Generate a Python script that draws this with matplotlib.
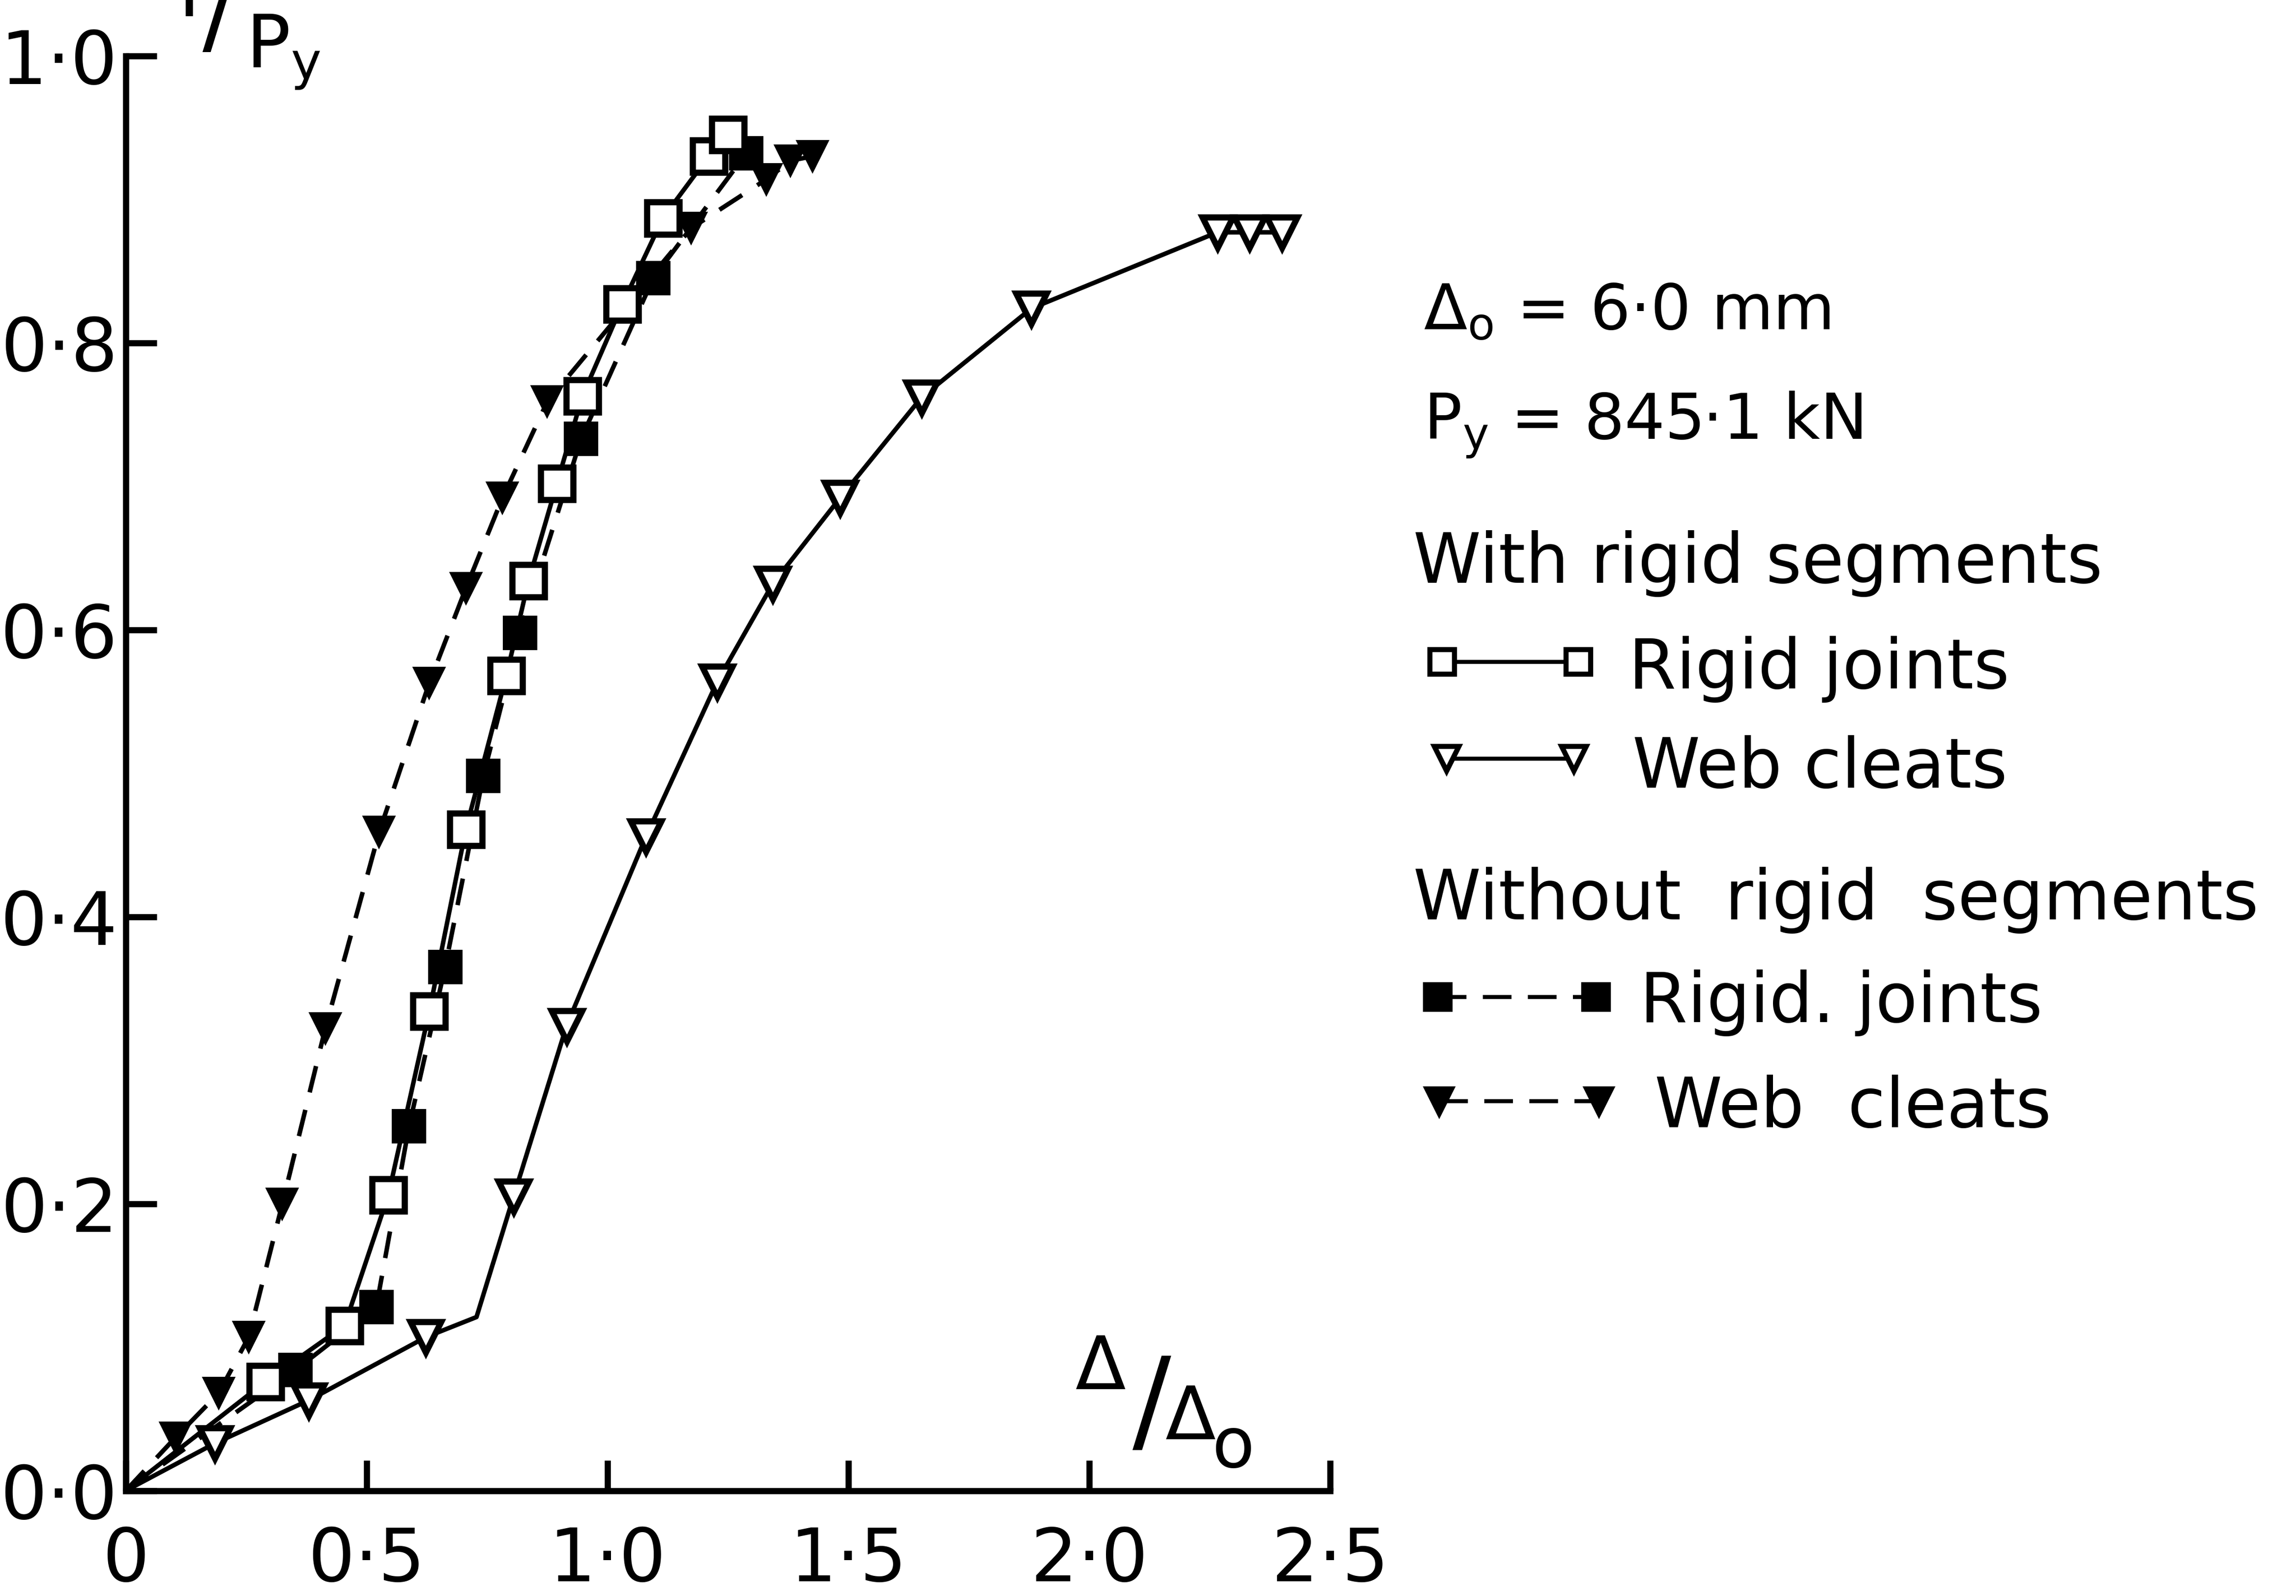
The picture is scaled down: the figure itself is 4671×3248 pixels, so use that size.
import matplotlib
matplotlib.use("Agg")
import matplotlib.pyplot as plt
from matplotlib.lines import Line2D

plt.rcParams['font.family'] = ['DejaVu Sans']
plt.rcParams['mathtext.default'] = 'regular'

# with rigid segments, rigid joints (open squares, solid)
sq_open_x = [0, 0.29, 0.454, 0.545, 0.63, 0.706, 0.79, 0.836, 0.895, 0.948, 1.031, 1.115, 1.21, 1.25]
sq_open_y = [0, 0.076, 0.115, 0.206, 0.334, 0.461, 0.568, 0.634, 0.702, 0.763, 0.827, 0.887, 0.93, 0.945]

# with rigid segments, web cleats (open triangles, solid) - index 4 is a bend with no marker
tri_open_x = [0, 0.185, 0.38, 0.623, 0.728, 0.805, 0.915, 1.08, 1.228, 1.343, 1.483, 1.652, 1.88, 2.266, 2.333, 2.4]
tri_open_y = [0, 0.033, 0.063, 0.107, 0.121, 0.205, 0.324, 0.456, 0.564, 0.632, 0.692, 0.762, 0.824, 0.877, 0.877, 0.877]

# without rigid segments, rigid joints (filled squares, dashed)
sq_fill_x = [0, 0.352, 0.52, 0.588, 0.663, 0.742, 0.818, 0.945, 1.095, 1.288]
sq_fill_y = [0, 0.084, 0.128, 0.254, 0.365, 0.498, 0.598, 0.733, 0.845, 0.932]

# without rigid segments, web cleats (filled triangles, dashed)
tri_fill_x = [0, 0.103, 0.193, 0.255, 0.325, 0.414, 0.526, 0.63, 0.706, 0.782, 0.875, 1.174, 1.33, 1.38, 1.426]
tri_fill_y = [0, 0.037, 0.068, 0.107, 0.2, 0.322, 0.459, 0.563, 0.629, 0.692, 0.759, 0.88, 0.914, 0.927, 0.93]

x_ticks = [0, 0.5, 1.0, 1.5, 2.0, 2.5]
x_labels = ["0", "0·5", "1·0", "1·5", "2·0", "2·5"]
y_ticks = [0, 0.2, 0.4, 0.6, 0.8, 1.0]
y_labels = ["0·0", "0·2", "0·4", "0·6", "0·8", "1·0"]

fig = plt.figure(figsize=(4671 / 300, 3248 / 300), dpi=300)
ax = fig.add_axes([0.0548, 0.066, 0.5245, 0.899])

lw = 2.2
dash = (6, 4)

ax.plot(sq_open_x, sq_open_y, 'k-', lw=lw, marker='s', ms=16, mfc='white', mec='k', mew=3,
        markevery=list(range(1, len(sq_open_x))), clip_on=False, zorder=3)
ax.plot(tri_open_x, tri_open_y, 'k-', lw=lw, marker='v', ms=15, mfc='white', mec='k', mew=3,
        markevery=[i for i in range(1, len(tri_open_x)) if i != 4], clip_on=False, zorder=3)
ax.plot(sq_fill_x, sq_fill_y, 'k', lw=lw, dashes=dash, marker='s', ms=16, mfc='k', mec='k',
        markevery=list(range(1, len(sq_fill_x))), clip_on=False, zorder=2)
ax.plot(tri_fill_x, tri_fill_y, 'k', lw=lw, dashes=dash, marker='v', ms=15, mfc='k', mec='k',
        markevery=list(range(1, len(tri_fill_x))), clip_on=False, zorder=2)

ax.set_xlim(0, 2.5)
ax.set_ylim(0, 1.0)
ax.set_xticks(x_ticks)
ax.set_xticklabels(x_labels)
ax.set_yticks(y_ticks)
ax.set_yticklabels(y_labels)
ax.tick_params(direction='in', length=15, width=3, labelsize=36)
ax.tick_params(axis='y', pad=4)
ax.tick_params(axis='x', pad=17)
for s in ['top', 'right']:
    ax.spines[s].set_visible(False)
for s in ['left', 'bottom']:
    ax.spines[s].set_linewidth(3)
ax.patch.set_alpha(0)

# axis titles written in the old drawing style
ax.text(2.024, 0.085, "Δ", fontsize=36, ha='center', va='center')
ax.text(2.13, 0.058, "/", fontsize=56, ha='center', va='center')
ax.text(2.21, 0.05, "Δ", fontsize=36, ha='center', va='center')
ax.text(2.298, 0.03, "o", fontsize=34, ha='center', va='center')

# P/Py at the top, the raised P is cut by the page edge as in the scan
fig.text(0.0775, 1 - 11 / 1090, "P", fontsize=36, ha='left', va='baseline')
fig.text(0.0955, 0.99, "/", fontsize=48, ha='center', va='center')
fig.text(0.107, 1 - 46 / 1090, "P$_{y}$", fontsize=36, ha='left', va='baseline')

# key on the right
fs = 33.5
fig.text(0.620, 0.7936, r"$\Delta_{o}$ = 6·0 mm", fontsize=31, va='baseline')
fig.text(0.620, 0.7248, "P$_{y}$ = 845·1 kN", fontsize=31, va='baseline')
fig.text(0.6154, 0.6349, "With rigid segments", fontsize=fs, va='baseline')
fig.text(0.7092, 0.5688, "Rigid joints", fontsize=fs, va='baseline')
fig.text(0.711, 0.5064, "Web cleats", fontsize=fs, va='baseline')
fig.text(0.6154, 0.4239, "Without  rigid  segments", fontsize=fs, va='baseline')
fig.text(0.7143, 0.3596, "Rigid. joints", fontsize=fs, va='baseline')
fig.text(0.7207, 0.2936, "Web  cleats", fontsize=fs, va='baseline')

keys = [
    (985, 1078, 452, 's', 'white', None),
    (988, 1075, 518, 'v', 'white', None),
    (982, 1090, 681, 's', 'k', (7, 4)),
    (983, 1092, 752, 'v', 'k', (7, 4)),
]
for x1, x2, yy, m, fc, ds in keys:
    ln = Line2D([x1 / 1568, x2 / 1568], [1 - yy / 1090] * 2, transform=fig.transFigure,
                color='k', lw=2, marker=m, ms=12, mfc=fc, mec='k', mew=2.5)
    if ds is not None:
        ln.set_dashes(ds)
    fig.add_artist(ln)

fig.savefig("out.png", dpi=300, facecolor='white')
